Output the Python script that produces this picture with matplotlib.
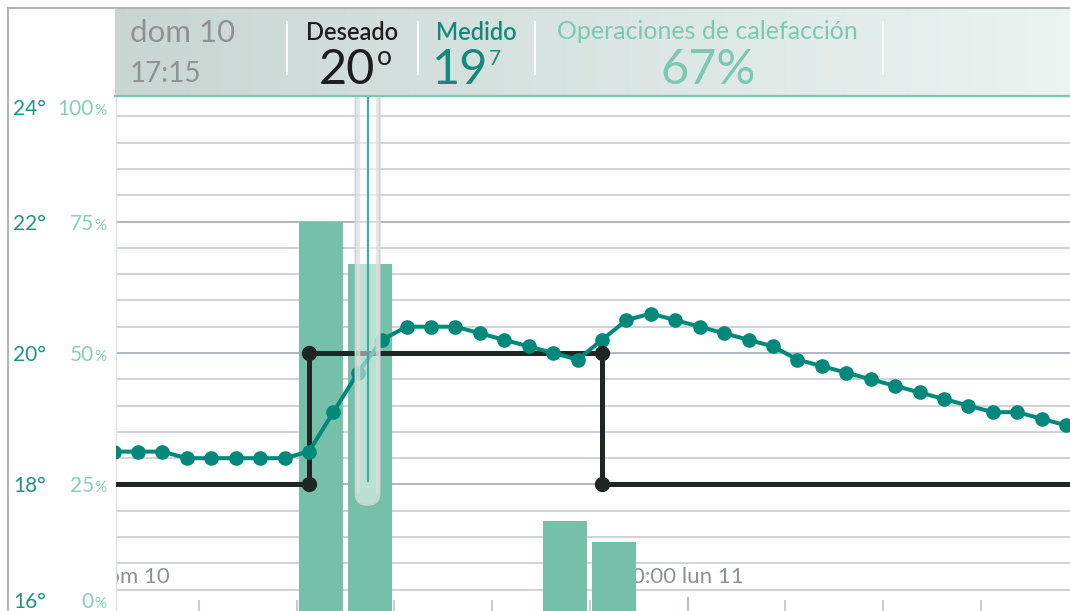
import matplotlib
matplotlib.use("Agg")
import matplotlib.pyplot as plt
import numpy as np
from matplotlib.patches import FancyBboxPatch

# ---------------- data ----------------
measured_hours = [12.25, 12.75, 13.25, 13.75, 14.25, 14.75, 15.25, 15.75, 16.25, 16.75,
                  17.25, 17.75, 18.25, 18.75, 19.25, 19.75, 20.25, 20.75, 21.25, 21.75,
                  22.25, 22.75, 23.25, 23.75, 24.25, 24.75, 25.25, 25.75, 26.25, 26.75,
                  27.25, 27.75, 28.25, 28.75, 29.25, 29.75, 30.25, 30.75, 31.25, 31.75]
measured_temp = [18.5, 18.5, 18.5, 18.4, 18.4, 18.4, 18.4, 18.4, 18.5, 19.1,
                 19.7, 20.2, 20.4, 20.4, 20.4, 20.3, 20.2, 20.1, 20.0, 19.9,
                 20.2, 20.5, 20.6, 20.5, 20.4, 20.3, 20.2, 20.1, 19.9, 19.8,
                 19.7, 19.6, 19.5, 19.4, 19.3, 19.2, 19.1, 19.1, 19.0, 18.9]
setpoint_change_hours = [16.25, 22.25]
setpoint_levels = [18, 20, 18]
heating_start_hours = [16, 17, 21, 22]
heating_pct = [75, 67, 18, 14]
temp_tick_values = [16, 18, 20, 22, 24]
pct_tick_values = [0, 25, 50, 75, 100]
xtick_hours = [14, 16, 18, 20, 22, 24, 26, 28, 30]
day_label_hours = [12, 24]
day_labels = ["12:00 dom 10", "0:00 lun 11"]
selected_hour = 17.45
header_day = "dom 10"
header_time = "17:15"
desired_label = "Deseado"
desired_value = "20"
measured_label = "Medido"
measured_whole = "19"
measured_decimal = "7"
heating_label = "Operaciones de calefacción"
heating_value = "67%"

# ---------------- style ----------------
FONT = ["Lato", "DejaVu Sans"]
plt.rcParams["font.family"] = FONT
TEAL = "#00897A"
BAR = "#76BFA8"
SETP = "#1F2624"
GRID = "#CBD0D7"
GRID_MAJ = "#A9B1BA"
TEMP_LBL = "#1E9584"
PCT_LBL = "#86CFB9"
GRAY_TXT = "#8E9392"

W, H = 1070, 611
fig = plt.figure(figsize=(W / 100, H / 100), dpi=100)
fig.patch.set_facecolor("white")

plot_left, plot_top = 116, 95
T_LO, T_HI = 16.076, 23.924
X_LO, X_HI = 12.30, 31.83


def t2p(t):
    return (t - 16) * 12.5


ax = fig.add_axes([plot_left / W, 0, (W - plot_left) / W, (H - plot_top) / H])
ax.set_xlim(X_LO, X_HI)
ax.set_ylim(t2p(T_LO), t2p(T_HI))
ax.set_facecolor("white")

for p in range(5, 100, 5):
    major = (p % 25 == 0)
    ax.axhline(p, color=GRID_MAJ if major else GRID, lw=1.3, zorder=1)

ax.bar([h + 0.5 for h in heating_start_hours], heating_pct, width=0.9,
       color=BAR, zorder=3, linewidth=0)

label_pct = t2p(16.593)
for h, lab in zip(day_label_hours, day_labels):
    ax.text(h, label_pct, lab, ha="center", va="center", fontsize=16,
            color=GRAY_TXT, zorder=2, clip_on=True)

ax.set_yticks([])
ax.set_xticks(xtick_hours)
ax.tick_params(axis="x", direction="in", length=8, width=1.1, color="#B8BFC6",
               labelbottom=False)
mid = ax.xaxis.get_major_ticks()[xtick_hours.index(24)]
mid.tick1line.set_markersize(10)
mid.tick1line.set_color("#7C8692")
mid.tick1line.set_markeredgewidth(1.6)
for s in ["top", "right", "bottom"]:
    ax.spines[s].set_visible(False)
ax.spines["left"].set_color("#DDE1E5")
ax.spines["left"].set_linewidth(1)

ax2 = ax.twinx()
ax2.set_ylim(T_LO, T_HI)
ax2.set_yticks([])
for s in ax2.spines.values():
    s.set_visible(False)

sx = [X_LO - 1, setpoint_change_hours[0], setpoint_change_hours[0],
      setpoint_change_hours[1], setpoint_change_hours[1], X_HI + 1]
sy = [setpoint_levels[0], setpoint_levels[0], setpoint_levels[1],
      setpoint_levels[1], setpoint_levels[2], setpoint_levels[2]]
ax2.plot(sx, sy, color=SETP, lw=3.6, zorder=3, solid_joinstyle="miter")
ax2.plot(sx[1:5], sy[1:5], "o", color=SETP, ms=10, zorder=5)
ax2.plot(measured_hours, measured_temp, "-o", color=TEAL, lw=2.9, ms=9.5, zorder=4)

# ---------------- overlay (pixel coords) ----------------
ov = fig.add_axes([0, 0, 1, 1])
ov.set_xlim(0, W)
ov.set_ylim(H, 0)
ov.axis("off")
ov.patch.set_visible(False)
ov.set_zorder(10)


def to_px(axis, x, y):
    d = axis.transData.transform((x, y))
    return d[0], H - d[1]


# slider
spx, _ = to_px(ax2, selected_hour, 20)
_, sbot = to_px(ax2, selected_hour, 17.69)
tube = FancyBboxPatch((spx - 12, 60), 24, sbot - 60,
                      boxstyle="round,pad=0,rounding_size=12",
                      facecolor=(1, 1, 1, 0.5), edgecolor=(0.80, 0.82, 0.82, 1.0),
                      lw=1.4, zorder=1)
ov.add_patch(tube)
for off in (-9.5, 9.5):
    ov.plot([spx + off, spx + off], [95, sbot - 12], color=(0.86, 0.87, 0.87, 0.7),
            lw=2.5, zorder=1.5, solid_capstyle="butt")
ov.plot([spx, spx], [95, sbot - 24], color="#3DAE9B", lw=1.6, zorder=2)

# header
grad = np.linspace(0, 1, 256)
c0 = np.array([0.79, 0.838, 0.825])
c1 = np.array([0.915, 0.957, 0.948])
img = (c0[None, :] * (1 - grad[:, None]) + c1[None, :] * grad[:, None])[None, :, :]
ov.imshow(img, extent=(115, W, 95, 9), aspect="auto", zorder=3)
ov.plot([115, W], [95.5, 95.5], color="#7CC4B3", lw=1.6, zorder=4)
for xs in [287, 418, 535, 883]:
    ov.plot([xs, xs], [22, 74], color="white", lw=1.3, zorder=4)

ov.text(130, 42, header_day, fontsize=22.5, color=GRAY_TXT, va="baseline", ha="left", zorder=5)
ov.text(130, 82, header_time, fontsize=20, color=GRAY_TXT, va="baseline", ha="left", zorder=5)
ov.text(352, 40, desired_label, fontsize=17, color="#1E1E1E", fontweight="semibold",
        va="baseline", ha="center", zorder=5)
ov.text(375, 84, desired_value, fontsize=35, color="#1E1E1E", fontweight="normal",
        va="baseline", ha="right", zorder=5)
ov.text(377, 65, "o", fontsize=19, color="#1E1E1E", fontweight="normal",
        va="baseline", ha="left", zorder=5)
ov.text(476, 40, measured_label, fontsize=17, color="#17897A", fontweight="semibold",
        va="baseline", ha="center", zorder=5)
ov.text(488, 84, measured_whole, fontsize=35, color="#17897A", fontweight="normal",
        va="baseline", ha="right", zorder=5)
ov.text(489, 65, measured_decimal, fontsize=15, color="#17897A", fontweight="normal",
        va="baseline", ha="left", zorder=5)
ov.text(707, 39, heating_label, fontsize=18, color="#7DC8B2",
        va="baseline", ha="center", zorder=5)
ov.text(708, 84, heating_value, fontsize=35, color="#7DC8B2", fontweight="normal",
        va="baseline", ha="center", zorder=5)

# frame lines
ov.plot([8, W], [8, 8], color="#A6A6A6", lw=1.2, zorder=6)
ov.plot([8, 8], [8, H], color="#A6A6A6", lw=1.2, zorder=6)

# y labels (clamped to visible area)
for T, P in zip(temp_tick_values, pct_tick_values):
    Tc = min(max(T, 16.24), 23.74)
    _, py = to_px(ax2, X_LO, Tc)
    ov.text(13, py + 8, f"{T}°", fontsize=15, color=TEMP_LBL, va="baseline", ha="left")
    ov.text(94, py + 8, f"{P}", fontsize=15, color=PCT_LBL, va="baseline", ha="right")
    ov.text(94.5, py + 8, "%", fontsize=11, color=PCT_LBL, va="baseline", ha="left")

fig.savefig("out.png", dpi=100)
